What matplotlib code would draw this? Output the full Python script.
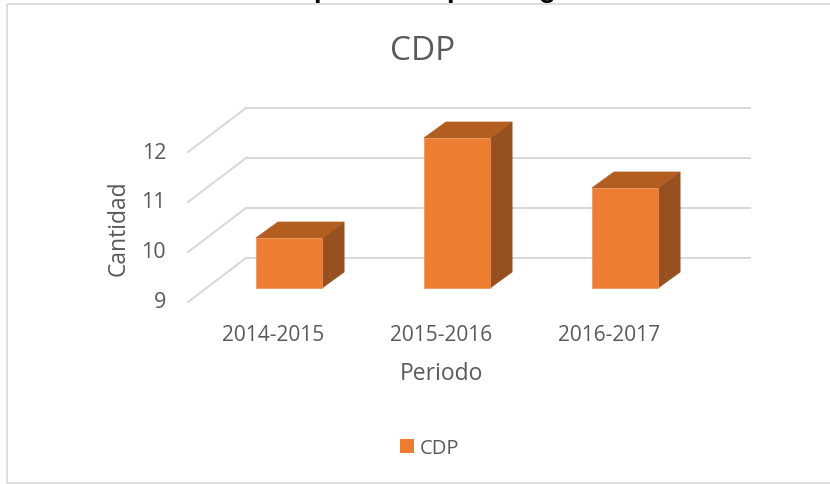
import matplotlib
matplotlib.use("Agg")
import matplotlib.pyplot as plt
from matplotlib.patches import Polygon, Rectangle
from matplotlib.lines import Line2D
from matplotlib.transforms import Affine2D

categories = ["2014-2015", "2015-2016", "2016-2017"]
values = [10, 12, 11]
y_ticks = [9, 10, 11, 12]
series_name = "CDP"
title = "CDP"
x_label = "Periodo"
y_label = "Cantidad"
heading_glyphs = [("p", 313.5, "left"), ("p", 446.5, "left"), ("g", 547, "center")]

W, H = 830, 485
plt.rcParams['font.family'] = ['Open Sans', 'DejaVu Sans']
fig = plt.figure(figsize=(W/100, H/100), dpi=100)
bg = fig.add_axes([0, 0, 1, 1])
bg.set_xlim(0, W); bg.set_ylim(H, 0); bg.axis('off')

L, R, T, B = 188, 692, 153, 303
ax = fig.add_axes([L/W, 1-B/H, (R-L)/W, (B-T)/H])
ax.set_xlim(-0.5, 2.5); ax.set_ylim(9, 12)
ax.axis('off')

def off(dx, dy):
    return ax.transData + Affine2D().translate(dx, dy)

GRID = "#d9d9d9"; TXT = "#595959"
DEPTH = (58, 44)
back = off(*DEPTH)
for v in y_ticks:
    p0 = ax.transData.transform((-0.5, v))
    ax.add_line(Line2D([p0[0], p0[0]+DEPTH[0]], [p0[1], p0[1]+DEPTH[1]], color=GRID, lw=1.5,
                       transform=None, clip_on=False))
    ax.add_line(Line2D([-0.5, 2.5], [v, v], color=GRID, lw=1.5, transform=back, clip_on=False))
    ax.annotate(str(v), (-0.5, v), xytext=(-22, 0), textcoords='offset pixels', ha='right', va='center',
                fontsize=15.5, color=TXT, annotation_clip=False)

FRONT = (17, 14); BD = (22, 16); BW = 0.197
for i, (c, v) in enumerate(zip(categories, values)):
    tr = off(*FRONT)
    a = tr.transform((i-BW, 9)); b = tr.transform((i+BW, v))
    x0, y0, x1, y1 = a[0], a[1], b[0], b[1]
    dx, dy = BD
    ax.add_patch(Polygon([(x1, y0), (x1+dx, y0+dy), (x1+dx, y1+dy), (x1, y1)], closed=True,
                         fc="#97501f", ec="#97501f", lw=0.5, transform=None, clip_on=False, zorder=3))
    ax.add_patch(Polygon([(x0, y1), (x1, y1), (x1+dx, y1+dy), (x0+dx, y1+dy)], closed=True,
                         fc="#b35e21", ec="#b35e21", lw=0.5, transform=None, clip_on=False, zorder=3))
    ax.add_patch(Rectangle((x0, y0), x1-x0, y1-y0, fc="#ed7d31", ec="#f0905a", lw=0.5,
                           transform=None, clip_on=False, zorder=4))
    ax.annotate(c, (i, 9), xytext=(1, -33), textcoords='offset pixels', ha='center', va='center',
                fontsize=15, color=TXT, annotation_clip=False)

bg.add_patch(Rectangle((7, 4.5), 900, 479.5, fc='none', ec=GRID, lw=1.2))
for g, x, ha in heading_glyphs:
    bg.text(x, -3, g, fontsize=20, fontweight='bold', family='Liberation Sans', color='black',
            ha=ha, va='baseline')
bg.text(423, 51, title, fontsize=24, color=TXT, ha='center', va='center')
bg.text(441, 374, x_label, fontsize=16.5, color=TXT, ha='center', va='center')
bg.text(119, 228, y_label, fontsize=16.5, color=TXT, ha='center', va='center', rotation=90)
bg.add_patch(Rectangle((400, 440), 14, 14, fc="#ed7d31", ec='none'))
bg.text(420, 449, series_name, fontsize=14.5, color=TXT, ha='left', va='center')
fig.savefig("out.png", dpi=100)
